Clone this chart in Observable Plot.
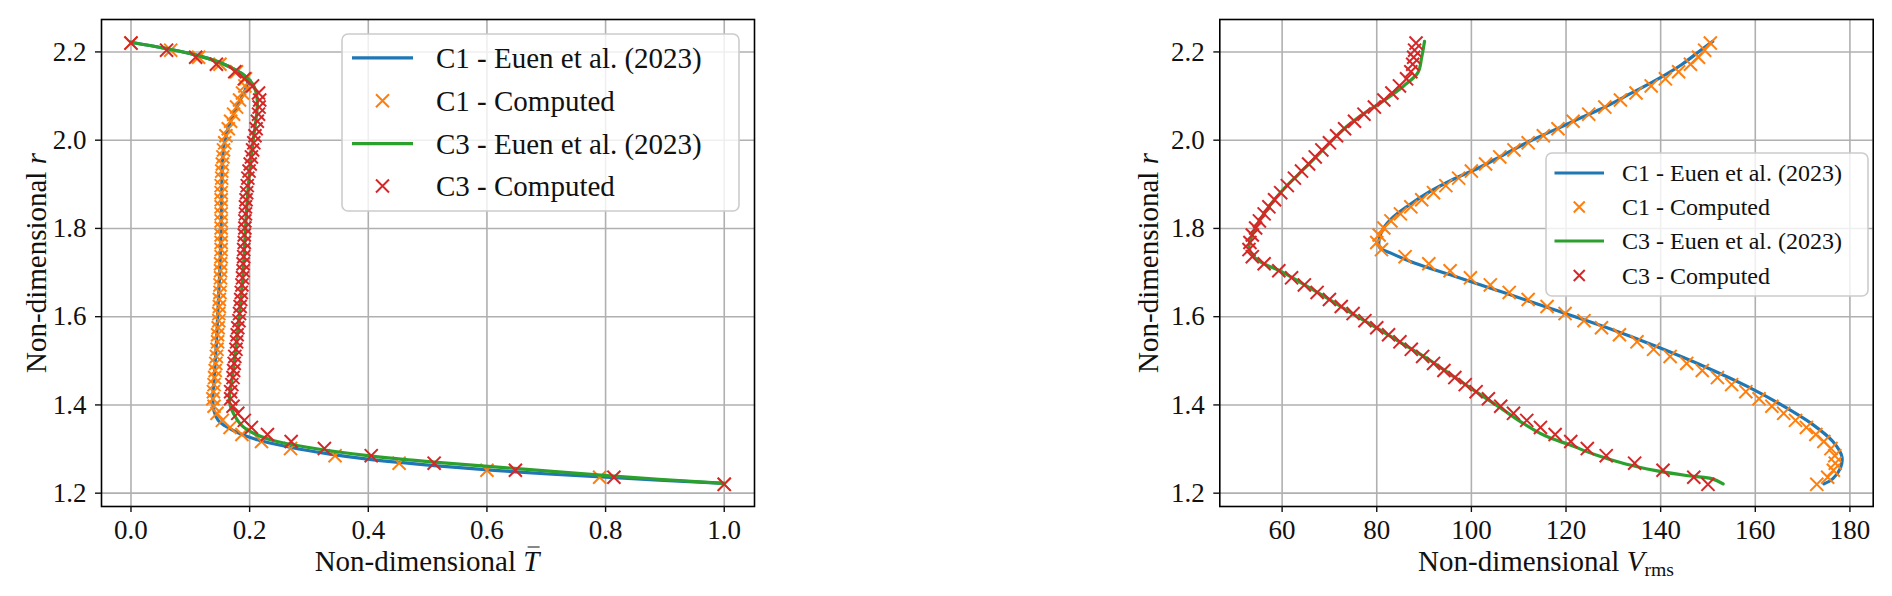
<!DOCTYPE html>
<html><head><meta charset="utf-8">
<script src="https://cdn.jsdelivr.net/npm/d3@7"></script>
<script src="https://cdn.jsdelivr.net/npm/@observablehq/plot@0.6"></script>
<style>
body{margin:0;background:#fff;}
#root{position:relative;width:1892px;height:596px;overflow:hidden;font-family:"Liberation Serif",serif;color:#111;}
.panel{position:absolute;top:0;}
.lbl{position:absolute;font-size:29px;white-space:nowrap;transform:translate(-50%,-50%);}
.rot{transform:translate(-50%,-50%) rotate(-90deg);}
.tbar{position:relative;display:inline-block;font-style:italic;}
.tbar::after{content:"";position:absolute;left:4px;right:0px;top:2px;border-top:1.6px solid #111;}
sub{font-size:0.68em;vertical-align:-0.3em;}
</style></head><body><div id="root"></div>
<script>
// ---------------- data ----------------
const tTicks = [0.0, 0.2, 0.4, 0.6, 0.8, 1.0];
const rTicks = [1.2, 1.4, 1.6, 1.8, 2.0, 2.2];
const vTicks = [60, 80, 100, 120, 140, 160, 180];
const seriesNames = ["C1 - Euen et al. (2023)", "C1 - Computed", "C3 - Euen et al. (2023)", "C3 - Computed"];

// computed points (shared radial positions)
const rComputed = [1.220,1.236,1.252,1.268,1.285,1.301,1.317,1.333,1.349,1.365,1.381,1.397,1.414,1.430,1.446,1.462,1.478,1.494,1.510,1.526,1.543,1.559,1.575,1.591,1.607,1.623,1.639,1.655,1.672,1.688,1.704,1.720,1.736,1.752,1.768,1.785,1.801,1.817,1.833,1.849,1.865,1.881,1.897,1.914,1.930,1.946,1.962,1.978,1.994,2.010,2.026,2.043,2.059,2.075,2.091,2.107,2.123,2.139,2.155,2.172,2.188,2.204,2.220];
const tC1Computed = [1.000,0.790,0.600,0.452,0.344,0.269,0.220,0.187,0.167,0.154,0.145,0.140,0.138,0.139,0.140,0.141,0.142,0.143,0.144,0.145,0.146,0.146,0.147,0.148,0.148,0.149,0.149,0.150,0.150,0.151,0.151,0.151,0.152,0.152,0.152,0.152,0.152,0.152,0.152,0.152,0.152,0.152,0.152,0.153,0.153,0.154,0.155,0.156,0.158,0.160,0.164,0.168,0.173,0.178,0.183,0.188,0.192,0.193,0.178,0.150,0.114,0.067,0.000];
const tC3Computed = [1.000,0.814,0.648,0.511,0.405,0.326,0.270,0.230,0.203,0.191,0.180,0.172,0.168,0.168,0.170,0.172,0.173,0.174,0.175,0.177,0.178,0.179,0.180,0.182,0.183,0.184,0.185,0.186,0.187,0.188,0.189,0.189,0.190,0.190,0.191,0.191,0.192,0.192,0.193,0.193,0.194,0.195,0.196,0.197,0.199,0.201,0.203,0.205,0.207,0.209,0.211,0.213,0.215,0.216,0.217,0.215,0.205,0.191,0.175,0.144,0.109,0.060,0.000];
const vC1Computed = [173.0,175.3,176.5,176.9,176.8,176.0,174.5,172.8,170.8,168.5,166.0,163.5,160.8,158.0,155.0,152.0,148.8,145.5,142.0,138.5,135.0,131.3,127.5,123.8,119.8,116.0,112.0,108.0,104.0,99.8,95.5,91.0,86.0,81.0,80.0,80.5,81.5,83.0,85.0,87.2,89.5,92.0,94.6,97.3,100.0,103.0,106.0,109.0,112.0,115.2,118.3,121.5,124.8,128.2,131.5,134.8,138.0,141.0,143.8,146.3,148.0,149.3,150.5];
const vC3Computed = [150.0,147.0,140.5,134.5,128.5,124.5,121.0,117.7,114.6,111.7,108.9,106.2,103.6,101.0,98.7,96.5,94.2,92.0,89.7,87.3,84.9,82.5,80.0,77.5,75.0,72.5,70.0,67.4,64.7,62.0,59.3,56.2,53.7,53.0,53.2,53.7,54.4,55.2,56.2,57.2,58.4,59.7,61.1,62.6,64.1,65.6,67.0,68.4,70.0,71.5,73.2,75.3,77.3,79.5,81.5,83.2,84.8,86.3,87.2,87.6,87.8,88.0,88.3];

// reference lines (Euen et al. 2023)
const rLineTC1 = [2.222,2.208,2.194,2.177,2.162,2.149,2.136,2.119,2.093,2.059,2.024,1.990,1.947,1.886,1.800,1.714,1.628,1.541,1.455,1.412,1.386,1.365,1.353,1.333,1.317,1.304,1.289,1.277,1.262,1.247,1.2356,1.222];
const tLineC1  = [0.000,0.058,0.107,0.148,0.172,0.189,0.197,0.194,0.185,0.173,0.163,0.157,0.154,0.153,0.152,0.150,0.147,0.144,0.140,0.138,0.140,0.147,0.158,0.187,0.224,0.268,0.333,0.399,0.516,0.662,0.808,1.000];
const rLineTC3 = [2.222,2.208,2.194,2.177,2.162,2.149,2.136,2.120,2.100,2.080,2.050,2.000,1.900,1.800,1.700,1.607,1.531,1.455,1.420,1.400,1.380,1.353,1.334,1.320,1.304,1.285,1.2697,1.2545,1.239,1.222];
const tLineC3  = [0.000,0.058,0.107,0.148,0.172,0.189,0.200,0.208,0.212,0.213,0.211,0.206,0.198,0.193,0.189,0.183,0.177,0.170,0.166,0.167,0.173,0.187,0.209,0.238,0.297,0.399,0.516,0.662,0.808,1.000];
const rLineVC1 = [2.224,2.205,2.171,2.136,2.106,2.076,2.050,2.024,1.998,1.968,1.938,1.912,1.882,1.852,1.826,1.800,1.774,1.757,1.744,1.722,1.692,1.654,1.615,1.576,1.533,1.485,1.442,1.399,1.356,1.317,1.283,1.257,1.233,1.221];
const vLineC1  = [151.0,148.6,144.4,139.0,133.7,128.4,123.0,117.7,112.4,107.0,101.7,96.3,91.0,86.7,83.5,81.4,80.5,80.6,83.0,87.8,96.3,107.0,117.7,128.4,139.0,149.7,158.3,165.7,172.1,176.4,178.3,178.0,176.4,174.5];
const rLineVC3 = [2.224,2.188,2.153,2.123,2.089,2.059,2.024,1.990,1.955,1.921,1.886,1.852,1.817,1.783,1.757,1.738,1.722,1.701,1.675,1.641,1.606,1.576,1.537,1.503,1.464,1.429,1.395,1.360,1.330,1.309,1.287,1.266,1.251,1.240,1.233,1.221];
const vLineC3  = [90.1,89.5,88.7,85.7,81.4,77.1,72.9,69.7,66.5,63.3,60.05,57.4,55.2,53.6,53.0,53.8,55.8,60.05,64.3,69.7,75.0,79.8,85.7,91.0,96.3,101.1,105.9,110.7,115.6,120.9,126.2,132.6,139.0,145.4,150.8,153.2];

// ---------------- build ----------------
const colors = {c1line:"#1f77b4", c1pts:"#ff7f0e", c3line:"#2ca02c", c3pts:"#d62728"};
const zip = (rs, xs) => rs.map((r, i) => ({r, x: xs[i]}));

const lineStyle = {strokeWidth: 3.2, curve: "catmull-rom", strokeLinejoin: "round"};
const dotStyle = {symbol: "times", r: 6, strokeWidth: 2};
const gridStyle = {stroke: "#b0b0b0", strokeOpacity: 1, strokeWidth: 1.6};
const fontStyle = {fontFamily: "'Liberation Serif', serif", fontSize: "27px", color: "#111", background: "transparent", overflow: "visible"};

function panel(opts) {
  return Plot.plot({
    width: opts.width, height: 596,
    marginLeft: opts.ml, marginRight: opts.mr, marginTop: 19, marginBottom: 90,
    style: fontStyle,
    x: {domain: opts.xdom},
    y: {domain: [1.1698, 2.2735]},
    marks: [
      Plot.gridX(opts.xticks, gridStyle),
      Plot.gridY(rTicks, gridStyle),
      Plot.line(opts.l1, {x: "x", y: "r", stroke: colors.c1line, ...lineStyle}),
      Plot.dot(opts.p1, {x: "x", y: "r", stroke: colors.c1pts, ...dotStyle}),
      Plot.line(opts.l3, {x: "x", y: "r", stroke: colors.c3line, ...lineStyle}),
      Plot.dot(opts.p3, {x: "x", y: "r", stroke: colors.c3pts, ...dotStyle}),
      Plot.frame({stroke: "#000", strokeWidth: 1.6}),
      Plot.axisX(opts.xticks, {tickSize: 6, tickPadding: 7, tickFormat: opts.xfmt, label: null, strokeWidth: 1.4}),
      Plot.axisY(rTicks, {tickSize: 6, tickPadding: 9, tickFormat: d3.format(".1f"), label: null, strokeWidth: 1.4})
    ]
  });
}

const root = document.getElementById("root");

const left = panel({
  width: 780, ml: 101, mr: 26, xdom: [-0.0497, 1.051], xticks: tTicks, xfmt: d3.format(".1f"),
  l1: zip(rLineTC1, tLineC1), p1: zip(rComputed, tC1Computed),
  l3: zip(rLineTC3, tLineC3), p3: zip(rComputed, tC3Computed)
});
left.classList.add("panel"); left.style.left = "0px";
root.appendChild(left);

const right = panel({
  width: 792, ml: 119.3, mr: 19.3, xdom: [46.83, 184.92], xticks: vTicks, xfmt: d3.format("d"),
  l1: zip(rLineVC1, vLineC1), p1: zip(rComputed, vC1Computed),
  l3: zip(rLineVC3, vLineC3), p3: zip(rComputed, vC3Computed)
});
right.classList.add("panel"); right.style.left = "1100px";
root.appendChild(right);

// axis labels
function label(html, x, y, rot) {
  const d = document.createElement("div");
  d.className = "lbl" + (rot ? " rot" : "");
  d.style.left = x + "px"; d.style.top = y + "px";
  d.innerHTML = html;
  root.appendChild(d);
}
label('Non-dimensional <span class="tbar">T</span>', 427, 561, false);
label('Non-dimensional <i>V</i><sub>rms</sub>', 1546, 563, false);
label('Non-dimensional <i>r</i>', 36, 263, true);
label('Non-dimensional <i>r</i>', 1148, 263, true);

// legends
const ns = "http://www.w3.org/2000/svg";
const lsvg = d3.create("svg").attr("width", 1892).attr("height", 596)
  .style("position", "absolute").style("left", 0).style("top", 0).style("pointer-events", "none")
  .style("font-family", "'Liberation Serif', serif");
function legend(box, rows, hx0, hx1, tx, fs, half) {
  lsvg.append("rect").attr("x", box[0]).attr("y", box[1]).attr("width", box[2]).attr("height", box[3])
    .attr("rx", 6).attr("fill", "#fff").attr("fill-opacity", 0.8).attr("stroke", "#cccccc").attr("stroke-width", 1.6);
  const cols = [colors.c1line, colors.c1pts, colors.c3line, colors.c3pts];
  seriesNames.forEach((name, i) => {
    const y = rows[i];
    if (i % 2 === 0) {
      lsvg.append("line").attr("x1", hx0).attr("x2", hx1).attr("y1", y).attr("y2", y)
        .attr("stroke", cols[i]).attr("stroke-width", 3.2);
    } else {
      const cx = (hx0 + hx1) / 2;
      lsvg.append("path").attr("d", `M${cx-half},${y-half}L${cx+half},${y+half}M${cx-half},${y+half}L${cx+half},${y-half}`)
        .attr("stroke", cols[i]).attr("stroke-width", 2).attr("fill", "none");
    }
    lsvg.append("text").attr("x", tx).attr("y", y).attr("dy", "0.35em").attr("font-size", fs).attr("fill", "#111").text(name);
  });
}
legend([342, 34, 397, 177], [57.8, 100.7, 143.6, 186], 352, 413, 436, 29, 6.5);
legend([1546, 153, 322, 143], [173, 207, 241, 275.5], 1554.5, 1604, 1622, 24, 5.5);
root.appendChild(lsvg.node());
</script>
</body></html>
